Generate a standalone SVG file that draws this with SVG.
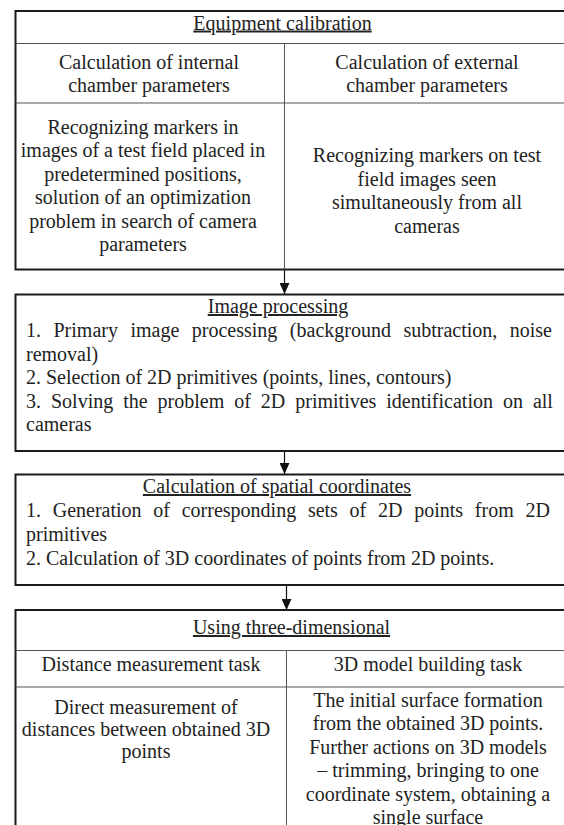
<svg xmlns="http://www.w3.org/2000/svg" width="564" height="825" viewBox="0 0 564 825">
  <defs>
    <marker id="arrow" viewBox="0 0 11 10" markerWidth="11" markerHeight="10" refX="11" refY="5" orient="auto" markerUnits="userSpaceOnUse">
      <path d="M0,0 L11,5 L0,10 Z" fill="#111"/>
    </marker>
    <style>
      .frame { fill: #fff; stroke: #1a1a1a; stroke-width: 2; }
      .rule { stroke: #555; stroke-width: 1; fill: none; }
      text { font-family: "Liberation Serif", "Times New Roman", serif; font-size: 20px; fill: #222; }
      .c { text-anchor: middle; }
      .u { text-decoration: underline; }
      .link { stroke: #111; stroke-width: 1.2; fill: none; marker-end: url(#arrow); }
    </style>
  </defs>

  <rect width="564" height="825" fill="#fff"/>

  <!-- Stage 1: equipment calibration -->
  <g id="equipment-calibration">
    <rect class="frame" x="15.5" y="11" width="560" height="258.5"/>
    <line class="rule" x1="15.5" y1="43.5" x2="575" y2="43.5"/>
    <line class="rule" x1="15.5" y1="103" x2="575" y2="103"/>
    <line class="rule" x1="284.5" y1="43.5" x2="284.5" y2="269.5"/>
    <text class="c u" x="282.5" y="29.5">Equipment calibration</text>
    <text class="c" x="149" y="68.5">Calculation of internal</text>
    <text class="c" x="149" y="91.5">chamber parameters</text>
    <text class="c" x="427" y="68.5">Calculation of external</text>
    <text class="c" x="427" y="91.5">chamber parameters</text>
    <text class="c" x="143" y="133.5">Recognizing markers in</text>
    <text class="c" x="143" y="157">images of a test field placed in</text>
    <text class="c" x="143" y="180.5">predetermined positions,</text>
    <text class="c" x="143" y="204">solution of an optimization</text>
    <text class="c" x="143" y="227.5">problem in search of camera</text>
    <text class="c" x="143" y="251">parameters</text>
    <text class="c" x="427" y="162">Recognizing markers on test</text>
    <text class="c" x="427" y="185.5">field images seen</text>
    <text class="c" x="427" y="209">simultaneously from all</text>
    <text class="c" x="427" y="232.5">cameras</text>
  </g>

  <!-- Stage 2: image processing -->
  <g id="image-processing">
    <rect class="frame" x="15.5" y="294.5" width="560" height="156.5"/>
    <text class="c u" x="278" y="313">Image processing</text>
    <text x="26" y="337" word-spacing="7.5">1. Primary image processing (background subtraction, noise</text>
    <text x="26" y="360.6">removal)</text>
    <text x="26" y="384.2">2. Selection of 2D primitives (points, lines, contours)</text>
    <text x="26" y="407.8" word-spacing="4.97">3. Solving the problem of 2D primitives identification on all</text>
    <text x="26" y="431.4">cameras</text>
  </g>

  <!-- Stage 3: spatial coordinates -->
  <g id="spatial-coordinates">
    <rect class="frame" x="15.5" y="474.5" width="560" height="110.5"/>
    <text class="c u" x="277" y="493">Calculation of spatial coordinates</text>
    <text x="26" y="517" word-spacing="6.74">1. Generation of corresponding sets of 2D points from 2D</text>
    <text x="26" y="541">primitives</text>
    <text x="26" y="565">2. Calculation of 3D coordinates of points from 2D points.</text>
  </g>

  <!-- Stage 4: using the 3D data -->
  <g id="using-3d">
    <rect class="frame" x="15.5" y="610" width="560" height="240"/>
    <line class="rule" x1="15.5" y1="650.5" x2="575" y2="650.5"/>
    <line class="rule" x1="15.5" y1="687" x2="575" y2="687"/>
    <line class="rule" x1="286.5" y1="650.5" x2="286.5" y2="850"/>
    <text class="c u" x="291.5" y="634">Using three-dimensional</text>
    <text class="c" x="151" y="671">Distance measurement task</text>
    <text class="c" x="428" y="671">3D model building task</text>
    <text class="c" x="146" y="714">Direct measurement of</text>
    <text class="c" x="146" y="736">distances between obtained 3D</text>
    <text class="c" x="146" y="758">points</text>
    <text class="c" x="428" y="706.5">The initial surface formation</text>
    <text class="c" x="428" y="730">from the obtained 3D points.</text>
    <text class="c" x="428" y="753.5">Further actions on 3D models</text>
    <text class="c" x="428" y="777">– trimming, bringing to one</text>
    <text class="c" x="428" y="800.5">coordinate system, obtaining a</text>
    <text class="c" x="428" y="824">single surface</text>
  </g>

  <!-- Flow arrows between stages -->
  <g id="connectors">
    <line class="link" x1="284.5" y1="270" x2="284.5" y2="294"/>
    <line class="link" x1="284.5" y1="452" x2="284.5" y2="474"/>
    <line class="link" x1="286.5" y1="586" x2="286.5" y2="610"/>
  </g>
</svg>
